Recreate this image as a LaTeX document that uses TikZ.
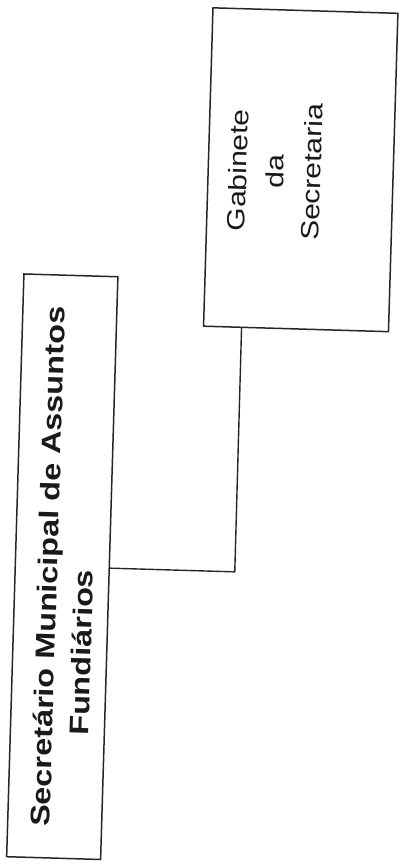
\documentclass[tikz,border=0pt]{standalone}
\usepackage{fontspec}
\setmainfont{Liberation Sans}
\usetikzlibrary{calc}
\begin{document}
\begin{tikzpicture}[x=1pt,y=1pt,
  boxshape/.style={draw=black!85, line width=1.5pt, inner sep=0pt},
  link/.style={draw=black!85, line width=1.4pt},
  lbl/.style={inner sep=0pt, outer sep=0pt, text=black!90}]
\useasboundingbox (0,0) rectangle (402,865);
\begin{scope}[rotate around={-1.7:(201,432.5)}, transform shape]
\node[boxshape, minimum width=94pt, minimum height=583pt] (sec) at (66.3,294.2) {};
\node[boxshape, minimum width=185pt, minimum height=318.5pt] (gab) at (292.9,698.1) {};
\node[lbl, rotate=90, anchor=base west] (secT) at (61.6,33.7)
  {\scalebox{1.2}[1]{\fontsize{27}{36}\selectfont\bfseries\begin{tabular}[t]{@{}l@{}}Secretário Municipal de Assuntos\\\hspace*{77pt}Fundiários\end{tabular}}};
\node[lbl, rotate=90, anchor=base] (gabT) at (239,696)
  {\scalebox{1.2}[1]{\fontsize{25}{37}\selectfont\begin{tabular}[t]{@{}c@{}}Gabinete\\da\\Secretaria\end{tabular}}};
\coordinate (ct) at ($(gab.south west)!0.208!(gab.south east)$);
\coordinate (cj) at (238.9,294.2);
\draw[link] (ct) -- (cj) -- (sec.east);
\end{scope}
\end{tikzpicture}
\end{document}
